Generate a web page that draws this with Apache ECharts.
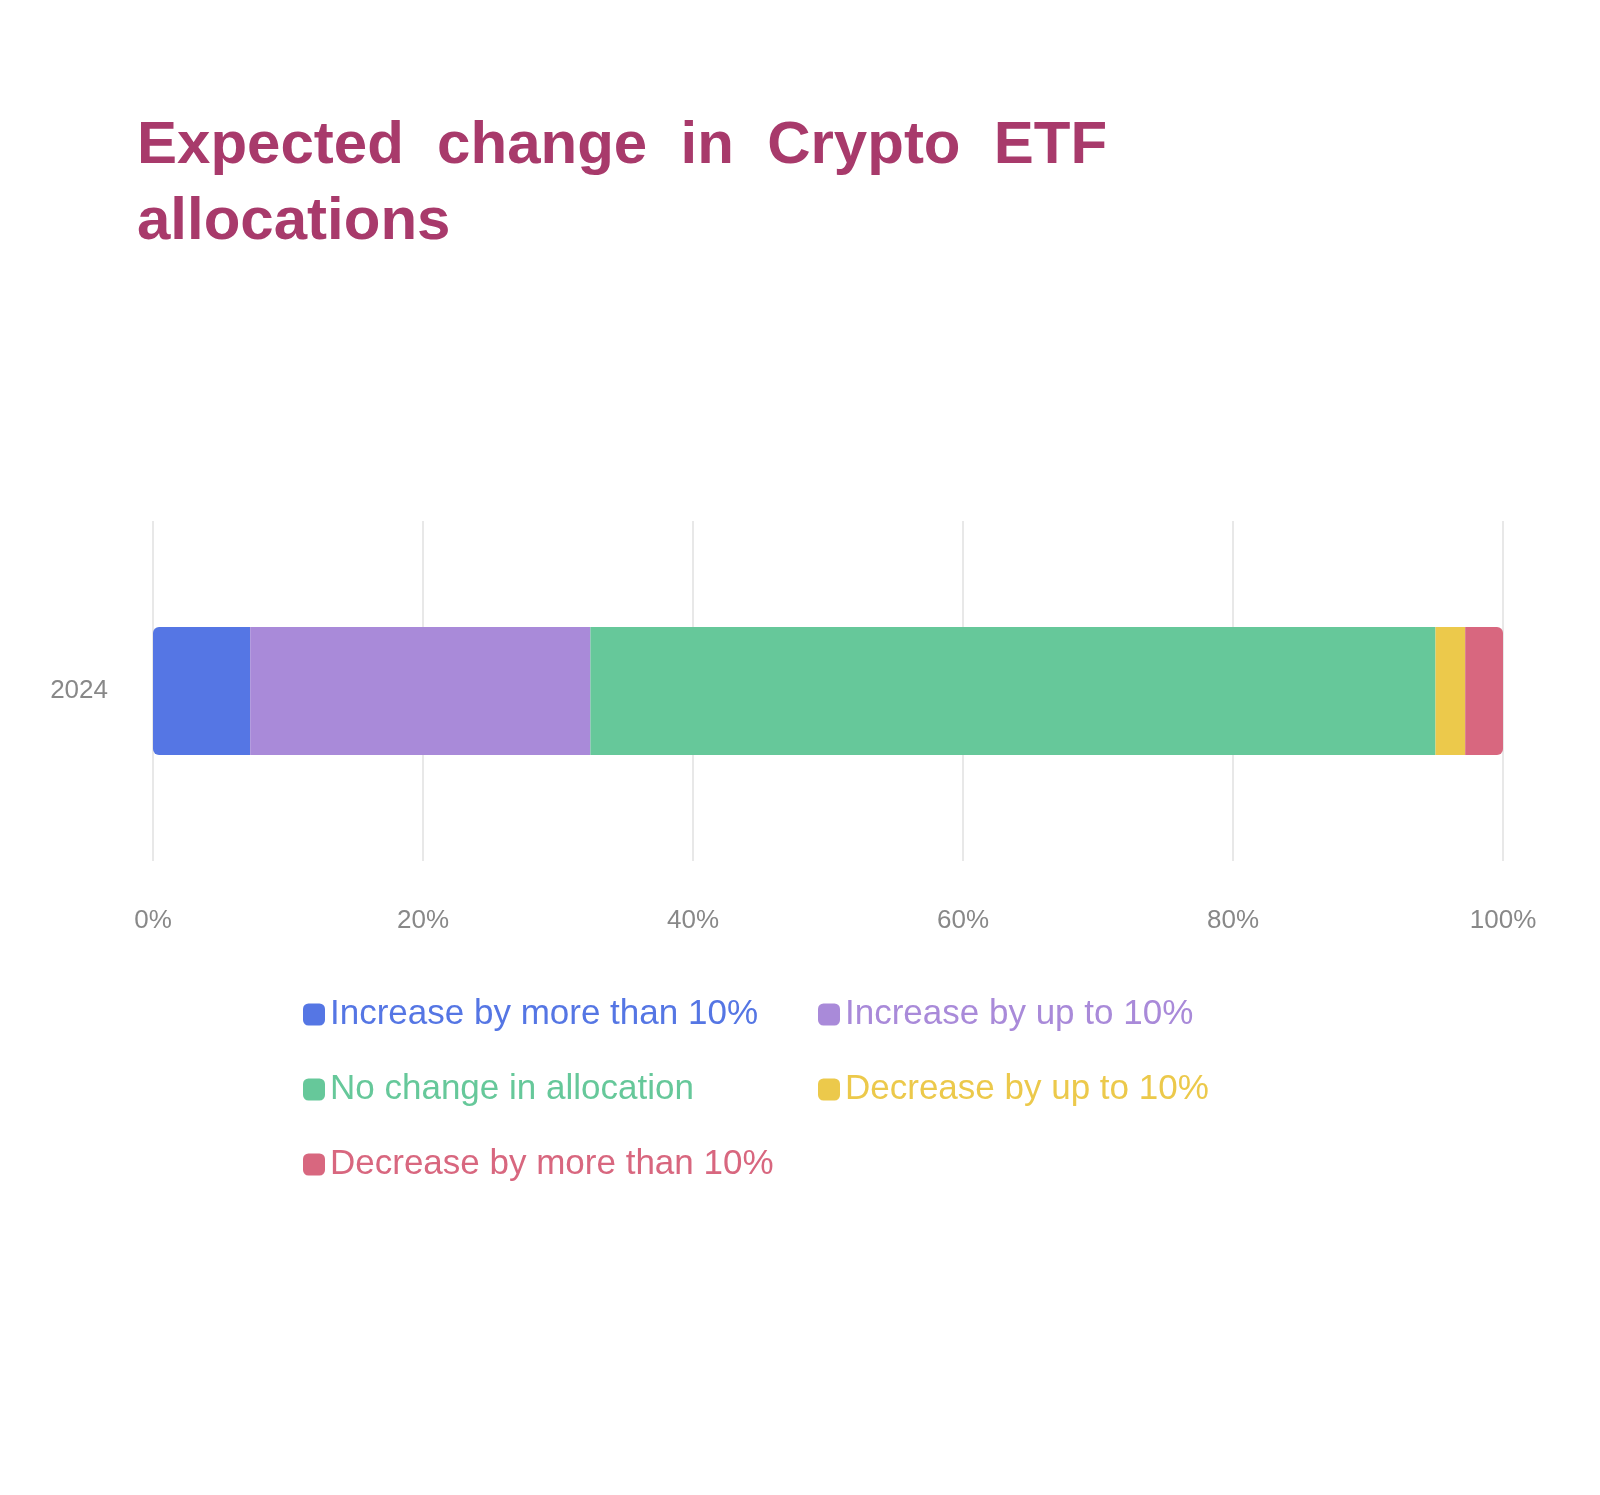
<!DOCTYPE html>
<html>
<head>
<meta charset="utf-8">
<script src="https://cdn.jsdelivr.net/npm/echarts@6/dist/echarts.min.js"></script>
<style>html,body{margin:0;padding:0;background:#fff;}#c{width:1600px;height:1495px;}</style>
</head>
<body>
<div id="c"></div>
<script>
const categories = ['2024'];
const seriesNames = ['Increase by more than 10%', 'Increase by up to 10%', 'No change in allocation', 'Decrease by up to 10%', 'Decrease by more than 10%'];
const increaseMore = [7.2];
const increaseUpTo = [25.2];
const noChange = [62.6];
const decreaseUpTo = [2.2];
const decreaseMore = [2.8];
const xTicks = [0, 20, 40, 60, 80, 100];
const colors = ['#5576e4', '#a98ad9', '#66c89a', '#ecc94b', '#d8677f'];

const values = [increaseMore, increaseUpTo, noChange, decreaseUpTo, decreaseMore];
const chart = echarts.init(document.getElementById('c'));
const series = seriesNames.map((n, i) => ({
  name: n,
  type: 'bar',
  stack: 'total',
  barWidth: 128,
  itemStyle: {
    color: colors[i],
    borderRadius: i === 0 ? [6, 0, 0, 6] : (i === seriesNames.length - 1 ? [0, 6, 6, 0] : 0)
  },
  data: values[i]
}));
const FONT = 'Liberation Sans, Arial, sans-serif';
const legendText = { fontSize: 35, fontFamily: FONT };
chart.setOption({
  backgroundColor: '#ffffff',
  color: colors,
  title: {
    text: 'Expected  change  in  Crypto  ETF\nallocations',
    left: 132,
    top: 103,
    textStyle: { fontSize: 60, fontWeight: 'bold', color: '#a83a6b', lineHeight: 76, fontFamily: FONT }
  },
  grid: { left: 153, right: 97, top: 521, bottom: 634 },
  xAxis: {
    type: 'value', min: 0, max: 100, interval: 20,
    axisLine: { show: false }, axisTick: { show: false },
    splitLine: { show: true, lineStyle: { color: '#e8e8e8', width: 2 } },
    axisLabel: { formatter: v => xTicks.includes(v) ? v + '%' : '', fontSize: 26, color: '#888', margin: 47, fontFamily: FONT }
  },
  yAxis: {
    type: 'category', data: categories,
    axisLine: { show: false }, axisTick: { show: false },
    axisLabel: { fontSize: 26, color: '#888', margin: 45, fontFamily: FONT }
  },
  legend: [
    {
      orient: 'vertical', left: 298, top: 992, itemGap: 40, itemWidth: 22, itemHeight: 22, icon: 'roundRect',
      data: [seriesNames[0], seriesNames[2], seriesNames[4]].map((n) => ({ name: n, textStyle: Object.assign({ color: colors[seriesNames.indexOf(n)] }, legendText) }))
    },
    {
      orient: 'vertical', left: 813, top: 992, itemGap: 40, itemWidth: 22, itemHeight: 22, icon: 'roundRect',
      data: [seriesNames[1], seriesNames[3]].map((n) => ({ name: n, textStyle: Object.assign({ color: colors[seriesNames.indexOf(n)] }, legendText) }))
    }
  ],
  series: series
});
</script>
</body>
</html>
